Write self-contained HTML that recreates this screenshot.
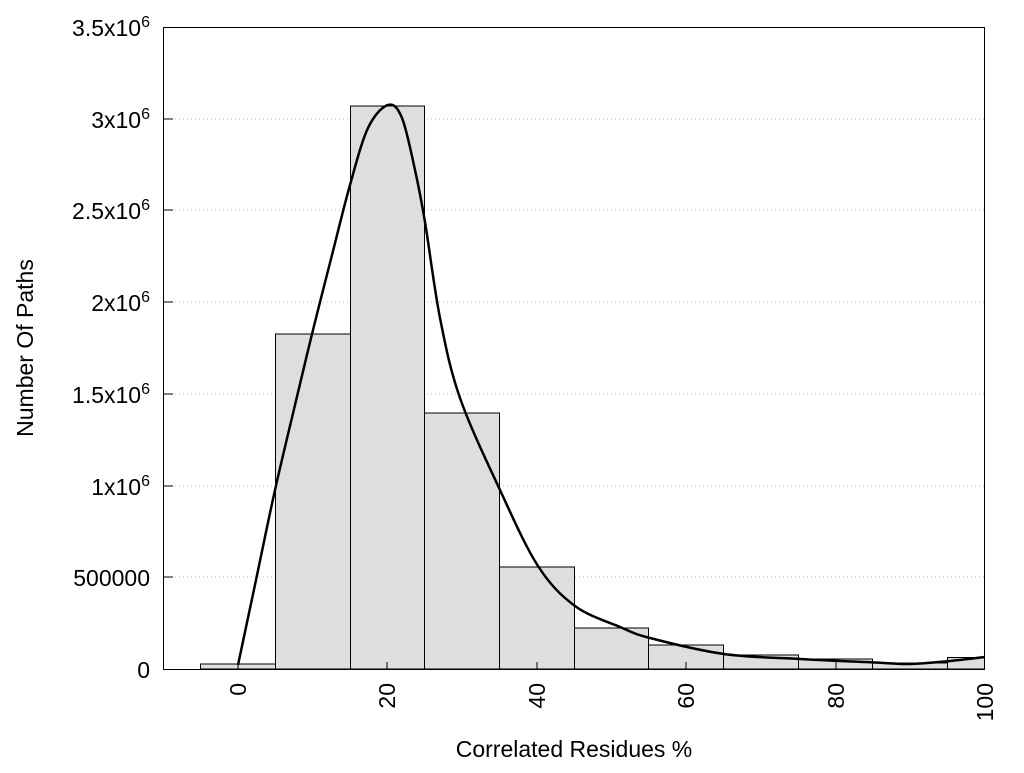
<!DOCTYPE html>
<html><head><style>body{margin:0;background:#fff}</style></head><body>
<svg width="1024" height="768" xmlns="http://www.w3.org/2000/svg" font-family="Liberation Sans, Arial, sans-serif">
<rect width="1024" height="768" fill="#fff"/>
<g stroke="#bbb" stroke-dasharray="1,3" stroke-width="1">
<line x1="163" y1="577" x2="985" y2="577"/><line x1="163" y1="486" x2="985" y2="486"/>
<line x1="163" y1="394" x2="985" y2="394"/><line x1="163" y1="302" x2="985" y2="302"/>
<line x1="163" y1="210" x2="985" y2="210"/><line x1="163" y1="119" x2="985" y2="119"/>
</g>
<g fill="#dedede" stroke="#000" stroke-width="1">
<rect x="200.5" y="664" width="75" height="5"/>
<rect x="275.5" y="334" width="75" height="335"/>
<rect x="350.5" y="106" width="74" height="563"/>
<rect x="424.5" y="413" width="75" height="256"/>
<rect x="499.5" y="567" width="75" height="102"/>
<rect x="574.5" y="628" width="74" height="41"/>
<rect x="648.5" y="645" width="75" height="24"/>
<rect x="723.5" y="655" width="75" height="14"/>
<rect x="798.5" y="659" width="74" height="10"/>
<rect x="872.5" y="663" width="75" height="6"/>
<rect x="947.5" y="657.5" width="37" height="11.5"/>
</g>
<path id="curve" d="" fill="none" stroke="#000" stroke-width="2.5" stroke-linejoin="round"/>
<rect x="163.5" y="27.5" width="821" height="642" fill="none" stroke="#000" stroke-width="1"/>
<g stroke="#000">
<line x1="163" y1="577" x2="173" y2="577"/><line x1="163" y1="486" x2="173" y2="486"/>
<line x1="163" y1="394" x2="173" y2="394"/><line x1="163" y1="302" x2="173" y2="302"/>
<line x1="163" y1="210" x2="173" y2="210"/><line x1="163" y1="119" x2="173" y2="119"/>
<line x1="238" y1="669" x2="238" y2="662"/><line x1="387" y1="669" x2="387" y2="662"/>
<line x1="537" y1="669" x2="537" y2="662"/><line x1="686" y1="669" x2="686" y2="662"/>
<line x1="836" y1="669" x2="836" y2="662"/>
</g>
<g font-size="23" text-anchor="end" fill="#000">
<text x="150" y="678">0</text>
<text x="150" y="586">500000</text>
<text x="150" y="495">1x10<tspan dy="-9" font-size="16">6</tspan></text>
<text x="150" y="403">1.5x10<tspan dy="-9" font-size="16">6</tspan></text>
<text x="150" y="311">2x10<tspan dy="-9" font-size="16">6</tspan></text>
<text x="150" y="219">2.5x10<tspan dy="-9" font-size="16">6</tspan></text>
<text x="150" y="128">3x10<tspan dy="-9" font-size="16">6</tspan></text>
<text x="150" y="36">3.5x10<tspan dy="-9" font-size="16">6</tspan></text>
</g>
<g font-size="23" text-anchor="end">
<text transform="translate(246,683) rotate(-90)">0</text>
<text transform="translate(395,683) rotate(-90)">20</text>
<text transform="translate(545,683) rotate(-90)">40</text>
<text transform="translate(694,683) rotate(-90)">60</text>
<text transform="translate(844,683) rotate(-90)">80</text>
<text transform="translate(993,683) rotate(-90)">100</text>
</g>
<text x="574" y="757" font-size="23" text-anchor="middle">Correlated Residues %</text>
<text transform="translate(33,348) rotate(-90)" font-size="23" text-anchor="middle">Number Of Paths</text>
</svg>
<script>
var p=[[238,665],[256,580],[275,490],[295,405],[313,330],[332,255],[350,185],[368,128],[388,105],[402,118],[415,170],[425,222],[440,318],[460,398],[500,490],[538,566],[575,606],[620,627],[650,638],[724,654],[800,659],[875,662.5],[910,664],[950,661],[985,657]];
var d="M"+p[0][0]+","+p[0][1];
for(var i=0;i<p.length-1;i++){var a=p[i-1]||p[i],b=p[i],c=p[i+1],e=p[i+2]||c;
d+=" C"+(b[0]+(c[0]-a[0])/6)+","+(b[1]+(c[1]-a[1])/6)+" "+(c[0]-(e[0]-b[0])/6)+","+(c[1]-(e[1]-b[1])/6)+" "+c[0]+","+c[1];}
document.getElementById("curve").setAttribute("d",d);
</script>
</body></html>
